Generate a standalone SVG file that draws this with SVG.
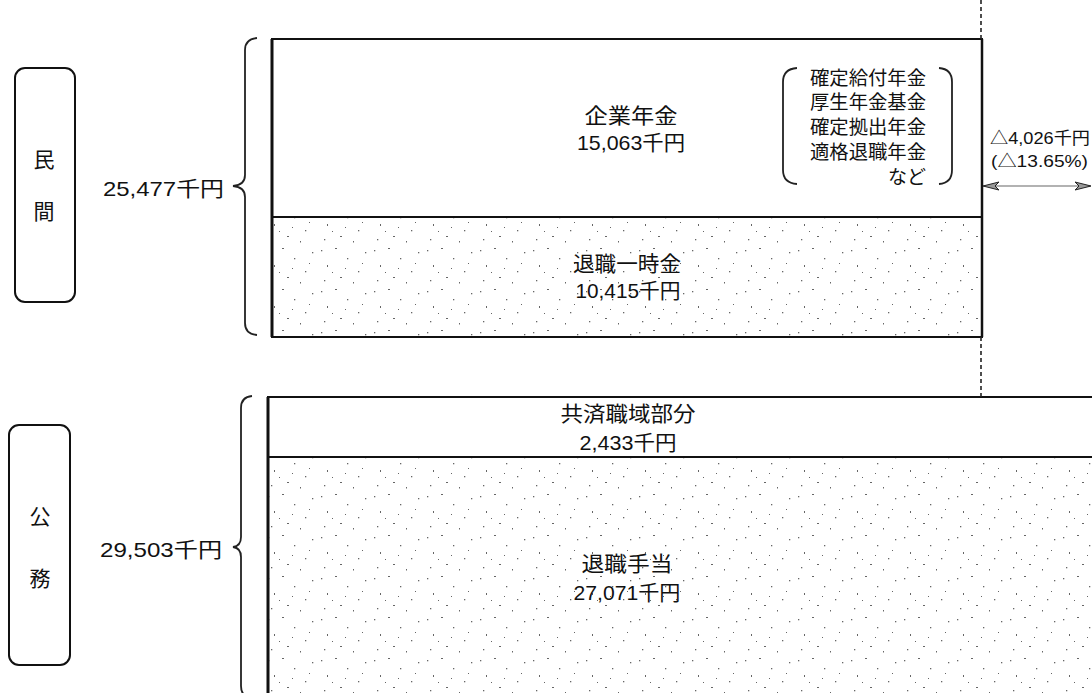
<svg xmlns="http://www.w3.org/2000/svg" width="1092" height="693" viewBox="0 0 1092 693">
  <style>
    .t { font-family: "Liberation Sans", "Noto Sans CJK JP", sans-serif; fill: #111; }
    .m { font-size: 21px; }
    .s { font-size: 19px; }
    .x { font-size: 17px; }
    .box { fill: none; stroke: #111; stroke-width: 2; }
    .br { fill: none; stroke: #222; stroke-width: 1.8; }
    .d { fill: #666; }
  </style>
  <defs>
    <pattern id="stip" width="53" height="41" patternUnits="userSpaceOnUse">
      <rect class="d" x="3" y="4" width="1.3" height="1.3"/>
      <rect class="d" x="17" y="2" width="2" height="1"/>
      <rect class="d" x="29" y="12" width="1.3" height="1.3"/>
      <rect class="d" x="9" y="19" width="1" height="2"/>
      <rect class="d" x="40" y="25" width="1.3" height="1.3"/>
      <rect class="d" x="22" y="31" width="2" height="1"/>
      <rect class="d" x="47" y="6" width="1.3" height="1.3"/>
      <rect class="d" x="35" y="36" width="1" height="1.5"/>
      <rect class="d" x="6" y="34" width="1.3" height="1.3"/>
      <rect class="d" x="14" y="26" width="1" height="1"/>
      <rect class="d" x="44" y="17" width="1" height="1"/>
      <rect class="d" x="27" y="22" width="1" height="1"/>
    </pattern>
    <marker id="ah" viewBox="0 0 16 10" refX="15" refY="5" markerWidth="16" markerHeight="10" markerUnits="userSpaceOnUse" orient="auto-start-reverse">
      <path d="M0,1 L16,5 L0,9 L4,5 Z" fill="#999" stroke="#222" stroke-width="1"/>
    </marker>
  </defs>

  <g id="minkan-label">
    <rect x="15" y="68" width="60" height="234" rx="10" ry="10" class="box" stroke-width="1.6"/>
    <text class="t m" x="44" y="167" text-anchor="middle">民</text>
    <text class="t m" x="44" y="219" text-anchor="middle">間</text>
  </g>

  <g id="minkan-total">
    <text class="t m" x="103" y="196" textLength="121" lengthAdjust="spacingAndGlyphs">25,477千円</text>
    <path class="br" d="M257,38 Q245,39 245,50 L245,175 Q245,185 233,186 Q245,187 245,197 L245,323 Q245,334 257,335"/>
  </g>

  <g id="minkan-box">
    <rect x="272" y="217" width="710" height="120" fill="url(#stip)"/>
    <rect x="272" y="39" width="710" height="298" class="box"/>
    <line x1="272" y1="217" x2="982" y2="217" stroke="#111" stroke-width="2"/>
    <line x1="272" y1="39" x2="272" y2="337" stroke="#111" stroke-width="3"/>
    <line x1="982" y1="39" x2="982" y2="337" stroke="#111" stroke-width="2.5"/>
  </g>

  <g id="kigyo-nenkin">
    <text class="t m" x="631" y="123" text-anchor="middle" textLength="93" lengthAdjust="spacingAndGlyphs">企業年金</text>
    <text class="t m" x="631" y="150" text-anchor="middle" textLength="108" lengthAdjust="spacingAndGlyphs">15,063千円</text>
  </g>

  <g id="nenkin-types">
    <path class="br" d="M797,68 Q783,69 783,82 L783,170 Q783,183 797,184"/>
    <path class="br" d="M939,68 Q952,69 952,82 L952,170 Q952,183 939,184"/>
    <text class="t s" x="810" y="85" textLength="116" lengthAdjust="spacingAndGlyphs">確定給付年金</text>
    <text class="t s" x="810" y="109" textLength="116" lengthAdjust="spacingAndGlyphs">厚生年金基金</text>
    <text class="t s" x="810" y="134" textLength="116" lengthAdjust="spacingAndGlyphs">確定拠出年金</text>
    <text class="t s" x="810" y="159" textLength="116" lengthAdjust="spacingAndGlyphs">適格退職年金</text>
    <text class="t s" x="926" y="184" text-anchor="end">など</text>
  </g>

  <g id="taishoku-ichijikin">
    <text class="t m" x="627" y="271" text-anchor="middle" textLength="108" lengthAdjust="spacingAndGlyphs">退職一時金</text>
    <text class="t m" x="628" y="298" text-anchor="middle" textLength="105" lengthAdjust="spacingAndGlyphs">10,415千円</text>
  </g>

  <g id="difference">
    <text class="t x" x="990" y="144" textLength="100" lengthAdjust="spacingAndGlyphs">△4,026千円</text>
    <text class="t x" x="991" y="167" textLength="97" lengthAdjust="spacingAndGlyphs">(△13.65%)</text>
  </g>

  <g id="koumu-label">
    <rect x="9" y="425" width="61" height="240" rx="10" ry="10" class="box" stroke-width="1.6"/>
    <text class="t m" x="40" y="524" text-anchor="middle">公</text>
    <text class="t m" x="40" y="586" text-anchor="middle">務</text>
  </g>

  <g id="koumu-total">
    <text class="t m" x="100" y="557" textLength="122" lengthAdjust="spacingAndGlyphs">29,503千円</text>
    <path class="br" d="M252,396 Q241,397 241,408 L241,537 Q241,546 233,547 Q241,548 241,557 L241,686 Q241,697 252,698"/>
  </g>

  <g id="koumu-box">
    <rect x="268" y="457" width="830" height="245" fill="url(#stip)"/>
    <rect x="268" y="397" width="830" height="305" class="box"/>
    <line x1="268" y1="457" x2="1098" y2="457" stroke="#111" stroke-width="2"/>
    <line x1="268" y1="397" x2="268" y2="700" stroke="#111" stroke-width="3"/>
  </g>

  <g id="kyosai">
    <text class="t m" x="628" y="421" text-anchor="middle" textLength="135" lengthAdjust="spacingAndGlyphs">共済職域部分</text>
    <text class="t m" x="628" y="450" text-anchor="middle" textLength="97" lengthAdjust="spacingAndGlyphs">2,433千円</text>
  </g>

  <g id="taishoku-teate">
    <text class="t m" x="627" y="571" text-anchor="middle" textLength="91" lengthAdjust="spacingAndGlyphs">退職手当</text>
    <text class="t m" x="627" y="600" text-anchor="middle" textLength="107" lengthAdjust="spacingAndGlyphs">27,071千円</text>
  </g>

  <g id="connectors">
    <line x1="981" y1="0" x2="981" y2="39" stroke="#222" stroke-width="1.6" stroke-dasharray="4 3"/>
    <line x1="981" y1="337" x2="981" y2="397" stroke="#222" stroke-width="1.6" stroke-dasharray="4 3"/>
    <line x1="984" y1="186" x2="1090" y2="186" stroke="#666" stroke-width="1.2" marker-start="url(#ah)" marker-end="url(#ah)"/>
  </g>
</svg>
